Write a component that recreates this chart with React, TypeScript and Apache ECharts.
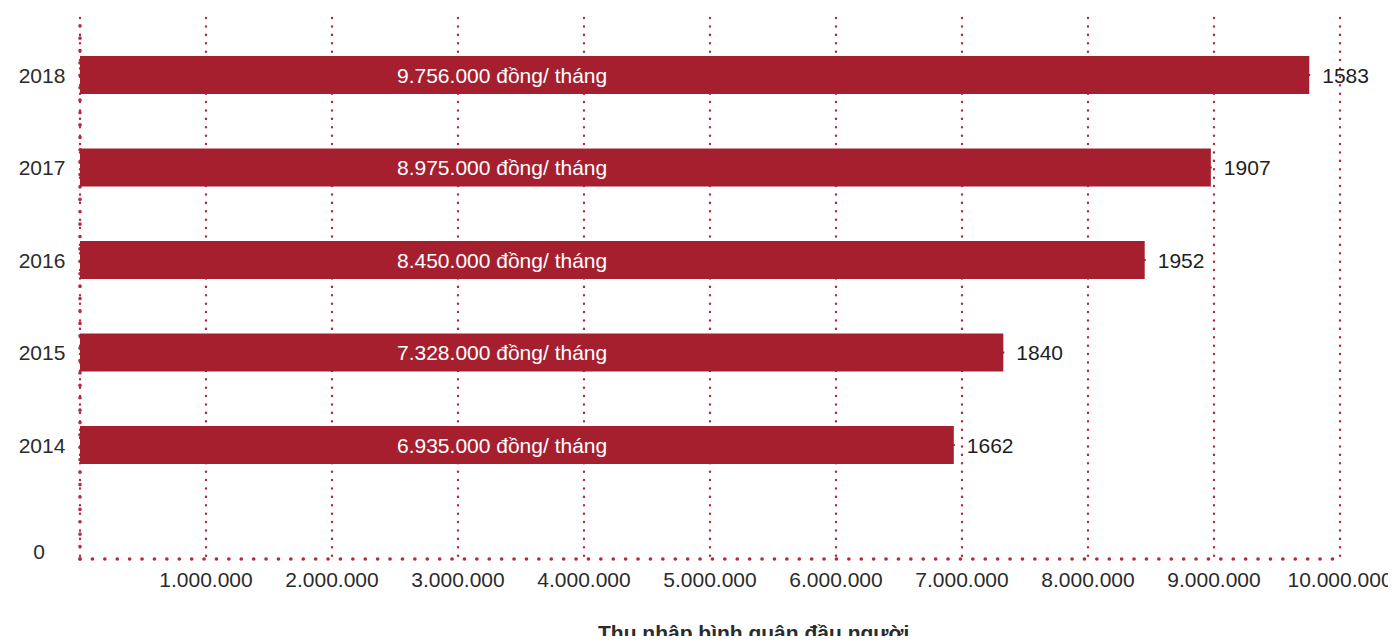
import React, { useEffect, useRef } from "react";
import * as echarts from "echarts";

const years = ["2014", "2015", "2016", "2017", "2018"];
const incomes = [6935000, 7328000, 8450000, 8975000, 9756000];
const counts = [1662, 1840, 1952, 1907, 1583];
const xMax = 10000000;
const xInterval = 1000000;
const unit = " đồng/ tháng";
const axisTitle = "Thu nhập bình quân đầu người";

const RED = "#a61f2f";
const DOT = "#b52a3d";
const TEXT = "#2b2b2b";
const FONT = "'Liberation Sans', Arial, sans-serif";

const fmt = (v: number) => String(v).replace(/\B(?=(\d{3})+(?!\d))/g, ".");

export default function App() {
  const ref = useRef<HTMLDivElement>(null);
  useEffect(() => {
    if (!ref.current) return;
    const chart = echarts.init(ref.current, null, { renderer: "svg" });
    const gridDot = { color: DOT, width: 2.4, type: [0.1, 8.3], cap: "round" };
    const axisDot = { color: DOT, width: 3.6, type: [0.1, 12.3], cap: "round" };
    chart.setOption({
      animation: false,
      backgroundColor: "#fff",
      textStyle: { fontFamily: FONT },
      title: {
        text: axisTitle,
        left: 598,
        top: 622,
        padding: 0,
        textStyle: { fontSize: 21, fontWeight: "bold", color: TEXT, fontFamily: FONT },
      },
      grid: [
        { left: 80, right: 56, top: 18, bottom: 85, containLabel: false },
        { left: 80, right: 56, top: 75, bottom: 199, containLabel: false },
      ],
      xAxis: [
        {
          type: "value",
          gridIndex: 0,
          min: 0,
          max: xMax,
          interval: xInterval,
          axisLine: { show: true, lineStyle: axisDot },
          axisTick: { show: false },
          splitLine: { show: true, lineStyle: gridDot },
          axisLabel: {
            margin: 10,
            fontSize: 21,
            color: TEXT,
            fontFamily: FONT,
            formatter: (v: number) => (v === 0 ? "" : fmt(v)),
          },
        },
        { type: "value", gridIndex: 1, min: 0, max: xMax, show: false },
      ],
      yAxis: [
        {
          type: "value",
          gridIndex: 0,
          min: 0,
          max: 1,
          interval: 1,
          axisLine: { show: true, lineStyle: axisDot },
          axisTick: { show: false },
          splitLine: { show: false },
          axisLabel: {
            margin: 41,
            align: "center",
            verticalAlign: "bottom",
            lineHeight: 15,
            fontSize: 21,
            color: TEXT,
            fontFamily: FONT,
            formatter: (v: number) => (v === 0 ? "0" : ""),
          },
        },
        {
          type: "category",
          gridIndex: 1,
          data: years,
          boundaryGap: false,
          axisLine: { show: false },
          axisTick: { show: false },
          splitLine: { show: false },
          axisLabel: {
            margin: 38,
            align: "center",
            fontSize: 21,
            color: TEXT,
            fontFamily: FONT,
          },
        },
      ],
      series: [
        {
          type: "bar",
          xAxisIndex: 1,
          yAxisIndex: 1,
          data: incomes,
          barWidth: 38,
          itemStyle: { color: RED },
          label: {
            show: true,
            position: [317, "50%"],
            align: "left",
            verticalAlign: "middle",
            color: "#fff",
            fontSize: 21,
            fontFamily: FONT,
            formatter: (p: any) => fmt(p.value) + unit,
          },
        },
        {
          type: "scatter",
          xAxisIndex: 1,
          yAxisIndex: 1,
          data: incomes.map((v, i) => [v, i]),
          symbol: "rect",
          symbolSize: 2,
          itemStyle: { color: RED, opacity: 1 },
          silent: true,
          z: 1,
          label: {
            show: true,
            position: "right",
            distance: 12,
            color: "#1e1e1e",
            opacity: 1,
            textBorderWidth: 0,
            fontSize: 21,
            fontFamily: FONT,
            formatter: (p: any) => String(counts[p.dataIndex]),
          },
        },
      ],
    });
    return () => chart.dispose();
  }, []);
  return <div ref={ref} style={{ width: 1396, height: 644, margin: -8 }} />;
}
